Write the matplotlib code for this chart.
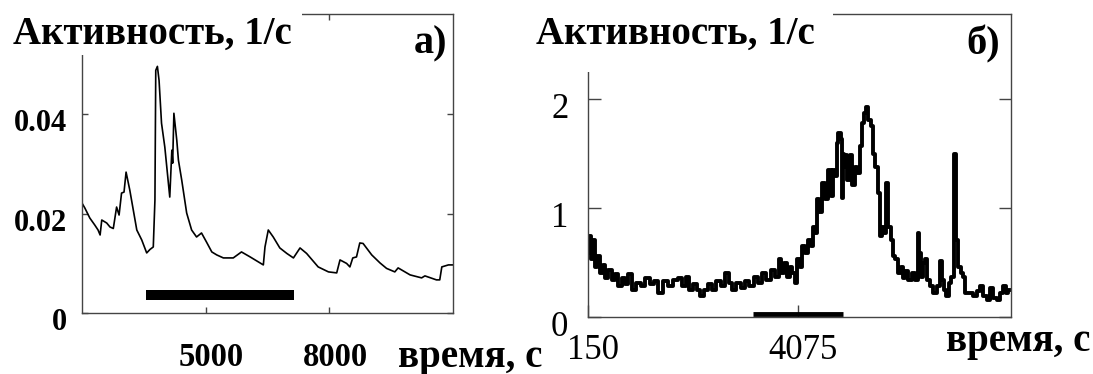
import matplotlib
matplotlib.use('Agg')
import matplotlib.pyplot as plt
from matplotlib.patches import Rectangle
from matplotlib.transforms import ScaledTranslation

plt.rcParams['font.family'] = ['Liberation Serif', 'DejaVu Serif']

#%% Datos: panel a)
t_a = [2000, 2070, 2190, 2310, 2390, 2440, 2480, 2600, 2680, 2760, 2840, 2900,
       2960, 3020, 3070, 3160, 3330, 3450, 3570, 3650, 3730, 3770, 3790, 3830,
       3870, 3930, 4010, 4130, 4180, 4200, 4230, 4300, 4340, 4420, 4540, 4660,
       4780, 4900, 5020, 5150, 5270, 5430, 5670, 5870, 6080, 6320, 6400, 6440,
       6520, 6640, 6800, 6970, 7130, 7290, 7450, 7730, 7980, 8180, 8260, 8420,
       8500, 8570, 8660, 8740, 8820, 9030, 9230, 9390, 9590, 9670, 9960, 10240,
       10320, 10600, 10680, 10730, 10890, 11000]
act_a = [0.0221, 0.0211, 0.0191, 0.0177, 0.0167, 0.0157, 0.0187, 0.0181, 0.0173,
         0.0170, 0.0213, 0.0197, 0.0241, 0.0243, 0.0283, 0.0247, 0.0167, 0.0147,
         0.0121, 0.0128, 0.0133, 0.0227, 0.0487, 0.0495, 0.0467, 0.0381, 0.0333,
         0.0233, 0.0327, 0.0301, 0.0401, 0.0347, 0.0307, 0.0267, 0.0201, 0.0167,
         0.0153, 0.0161, 0.0143, 0.0123, 0.0117, 0.0111, 0.0111, 0.0123, 0.0113,
         0.0101, 0.0097, 0.0133, 0.0167, 0.0153, 0.0131, 0.0120, 0.0111, 0.0131,
         0.0120, 0.0093, 0.0083, 0.0081, 0.0107, 0.0100, 0.0093, 0.0111, 0.0113,
         0.0141, 0.0140, 0.0117, 0.0101, 0.0090, 0.0083, 0.0091, 0.0077, 0.0071,
         0.0075, 0.0067, 0.0067, 0.0093, 0.0097, 0.0097]
bar_a = [3550, 7150]
bar_a_y = 0.0037

#%% Datos: panel б)
t_b = [161, 180, 225, 255, 305, 348, 412, 455, 505, 567, 628, 692, 754, 828, 879,
       941, 1015, 1096, 1178, 1264, 1346, 1427, 1501, 1595, 1688, 1782, 1875,
       1950, 2012, 2075, 2155, 2217, 2281, 2361, 2436, 2511, 2591, 2684, 2759,
       2810, 2884, 2965, 3047, 3122, 3215, 3296, 3371, 3445, 3525, 3619, 3694,
       3744, 3795, 3838, 3899, 3944, 3993, 4043, 4086, 4131, 4180, 4230, 4292,
       4337, 4380, 4417, 4460, 4496, 4553, 4617, 4666, 4710, 4753, 4791, 4815,
       4852, 4897, 4912, 4927, 4940, 4978, 5021, 5066, 5114, 5165, 5208, 5252,
       5290, 5333, 5365, 5413, 5458, 5501, 5551, 5581, 5626, 5675, 5707, 5750,
       5787, 5832, 5862, 5925, 5974, 6019, 6062, 6112, 6174, 6236, 6299, 6329,
       6361, 6392, 6435, 6473, 6516, 6579, 6641, 6703, 6748, 6785, 6828, 6878,
       6921, 6972, 7015, 7047, 7095, 7140, 7183, 7234, 7327, 7389, 7450, 7514,
       7576, 7637, 7701, 7763, 7824, 7888, 7936, 7981, 8030]
act_b = [0.59, 0.74, 0.53, 0.71, 0.46, 0.56, 0.40, 0.48, 0.36, 0.43, 0.34, 0.39,
         0.28, 0.36, 0.30, 0.39, 0.25, 0.31, 0.28, 0.36, 0.30, 0.33, 0.22, 0.33,
         0.28, 0.34, 0.36, 0.28, 0.37, 0.25, 0.30, 0.25, 0.19, 0.25, 0.30, 0.25,
         0.33, 0.28, 0.40, 0.31, 0.25, 0.31, 0.27, 0.33, 0.28, 0.37, 0.31, 0.40,
         0.34, 0.43, 0.37, 0.53, 0.40, 0.50, 0.37, 0.46, 0.40, 0.31, 0.53, 0.46,
         0.65, 0.59, 0.71, 0.65, 0.83, 0.77, 1.08, 0.96, 1.23, 1.08, 1.35, 1.11,
         1.35, 1.29, 1.60, 1.69, 1.63, 1.09, 1.50, 1.38, 1.49, 1.26, 1.49, 1.21,
         1.38, 1.32, 1.57, 1.78, 1.87, 1.93, 1.81, 1.75, 1.50, 1.38, 1.14, 0.74,
         0.83, 0.77, 1.23, 0.83, 0.71, 0.56, 0.53, 0.40, 0.46, 0.36, 0.42, 0.34,
         0.40, 0.34, 0.77, 0.59, 0.37, 0.50, 0.53, 0.34, 0.28, 0.22, 0.28, 0.51,
         0.34, 0.25, 0.19, 0.31, 0.37, 1.50, 0.71, 0.46, 0.40, 0.37, 0.22, 0.22,
         0.19, 0.24, 0.28, 0.19, 0.16, 0.27, 0.17, 0.16, 0.22, 0.28, 0.22, 0.25]
bar_b = [3230, 4920]
bar_b_y = 0.028

titulo = 'Активность, 1/с'
eje_x = 'время, с'

#%% Gráfica
fig = plt.figure(figsize=(10.93, 3.74), dpi=100)

def desplazar(labels, dx, dy):
    for lab in labels:
        lab.set_transform(lab.get_transform() +
                          ScaledTranslation(dx / 100, dy / 100, fig.dpi_scale_trans))

# panel a)
ax1 = fig.add_axes([0.0750, 0.1623, 0.3394, 0.8003])
ax1.plot(t_a, act_a, color='black', lw=1.2)
ax1.plot(bar_a, [bar_a_y, bar_a_y], color='black', lw=7.2, solid_capstyle='butt')
ax1.set_xlim(2000, 11000)
ax1.set_ylim(0, 0.06)
ax1.set_xticks([5000, 8000], ['5000', '8000'], fontweight='bold', fontsize=23.5)
ax1.set_yticks([0, 0.02, 0.04], ['0', '0.02', '0.04'], fontweight='bold', fontsize=22)
ax1.tick_params(direction='in', top=True, right=True, length=4, width=1,
                color='#444444')
ax1.tick_params(axis='x', pad=21)
ax1.tick_params(axis='y', pad=11)
for s in ax1.spines.values():
    s.set_color('#444444')
    s.set_linewidth(1.0)
desplazar(ax1.get_xticklabels(), 6, 0)
desplazar(ax1.get_yticklabels(), 0, -6)

# panel б)
ax2 = fig.add_axes([0.5377, 0.1524, 0.3870, 0.8102])
ax2.plot(t_b, act_b, color='black', lw=2.8, drawstyle='steps-mid')
ax2.plot(bar_b, [bar_b_y, bar_b_y], color='black', lw=3.5, solid_capstyle='butt',
         clip_on=False)
ax2.set_xlim(150, 8055)
ax2.set_ylim(0, 2.78)
ax2.set_xticks([150, 4075], ['150', '4075'])
ax2.set_yticks([0, 1, 2], ['0', '1', '2'])
ax2.tick_params(direction='in', top=True, right=True, length=9, width=1,
                color='#444444', labelsize=25)
ax2.tick_params(axis='x', pad=12)
ax2.tick_params(axis='y', pad=14)
for s in ax2.spines.values():
    s.set_color('#444444')
    s.set_linewidth(1.0)
desplazar(ax2.get_xticklabels(), 5, 0)
desplazar(ax2.get_yticklabels(), 0, -6)

# recuadros blancos tras los títulos (tapan parte del marco)
W, H = 1093, 374
fig.add_artist(Rectangle((0, (H - 55) / H), 302 / W, 55 / H, transform=fig.transFigure,
                         facecolor='white', edgecolor='none', zorder=5))
fig.add_artist(Rectangle((500 / W, (H - 72) / H), 333 / W, 72 / H, transform=fig.transFigure,
                         facecolor='white', edgecolor='none', zorder=5))

fig.text(13 / W, (H - 44) / H, titulo, fontsize=28, fontweight='bold', va='baseline',
         zorder=6)
fig.text(536 / W, (H - 44) / H, titulo, fontsize=28, fontweight='bold', va='baseline',
         zorder=6)
fig.text(447 / W, (H - 44) / H, 'а)', fontsize=29, fontweight='bold', ha='right',
         va='center', zorder=6)
fig.text(1000 / W, (H - 44) / H, 'б)', fontsize=29, fontweight='bold', ha='right',
         va='center', zorder=6)
fig.text(398 / W, (H - 357) / H, eje_x, fontsize=28, fontweight='bold', va='center',
         zorder=6)
fig.text(1090 / W, (H - 341) / H, eje_x, fontsize=28, fontweight='bold', ha='right',
         va='center', zorder=6)

fig.savefig('out.png', dpi=100)
